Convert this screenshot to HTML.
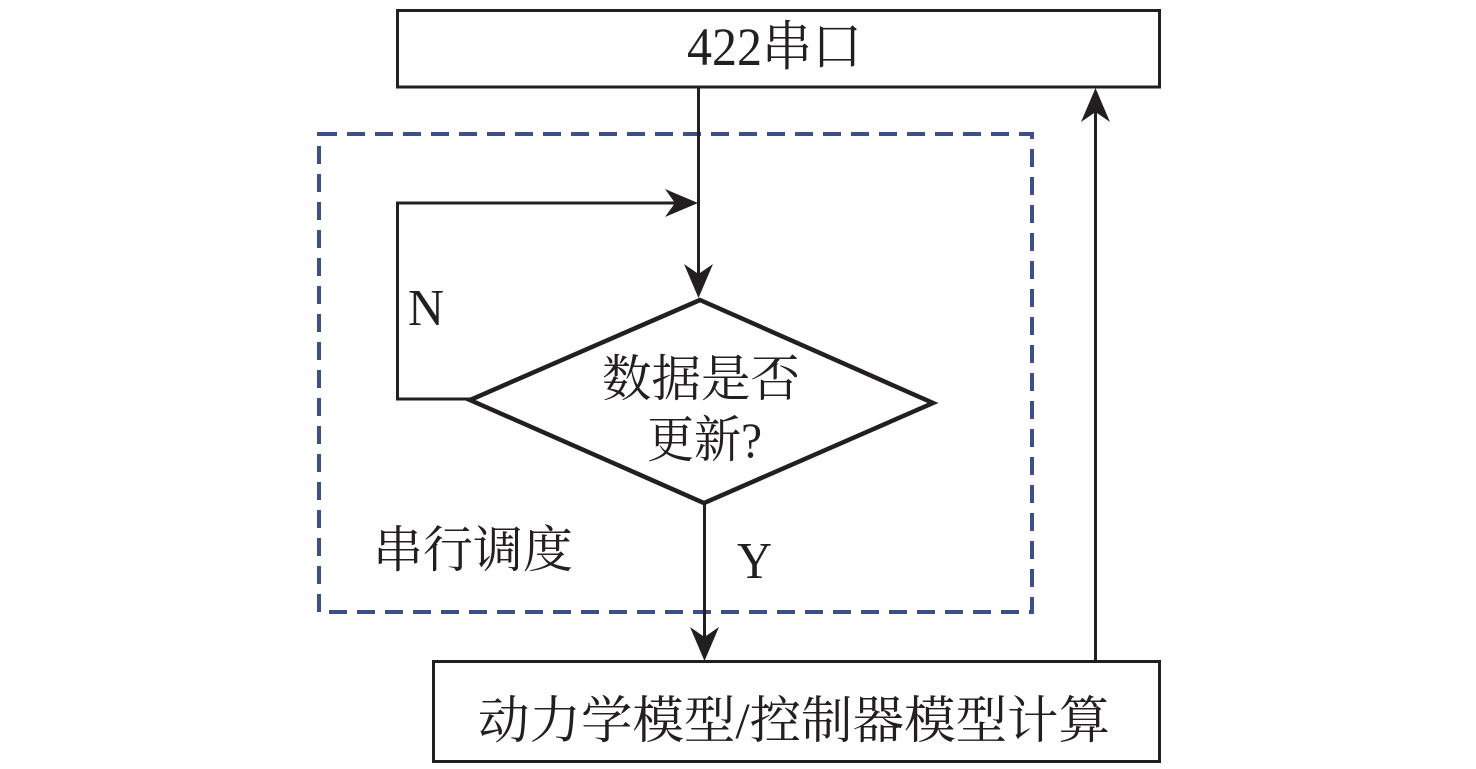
<!DOCTYPE html>
<html>
<head>
<meta charset="utf-8">
<style>
  html, body { margin: 0; padding: 0; background: #ffffff; }
  body { width: 1476px; height: 769px; overflow: hidden; }
  svg { display: block; }
  text { font-family: "Liberation Serif", "Noto Serif CJK SC", serif; fill: #231f20; }
</style>
</head>
<body>
<svg width="1476" height="769" viewBox="0 0 1476 769" xmlns="http://www.w3.org/2000/svg">
  <!-- dashed group box -->
  <rect x="319" y="134" width="713" height="478" fill="none" stroke="#3b4f88" stroke-width="4" stroke-dasharray="18 10"/>

  <!-- top box -->
  <rect x="397.5" y="10.5" width="762" height="76.5" fill="#fff" stroke="#231f20" stroke-width="3"/>
  <text x="687" y="65" font-size="54" textLength="175" lengthAdjust="spacingAndGlyphs">422串口</text>

  <!-- bottom box -->
  <rect x="433.5" y="661.5" width="726" height="100" fill="#fff" stroke="#231f20" stroke-width="3"/>
  <text x="478" y="738" font-size="51" textLength="632" lengthAdjust="spacingAndGlyphs">动力学模型/控制器模型计算</text>

  <!-- connector top box -> diamond -->
  <line x1="698.5" y1="87" x2="698.5" y2="290" stroke="#231f20" stroke-width="3"/>
  <polygon points="698.5,298 684,264 698.5,274 713,264" fill="#231f20"/>

  <!-- loop N -->
  <polyline points="471,399 397.5,399 397.5,203 690,203" fill="none" stroke="#231f20" stroke-width="3"/>
  <polygon points="698,203 665,189 675,203 665,217" fill="#231f20"/>

  <!-- diamond -->
  <polygon points="700,300 933,403 704,503 470,400" fill="#fff" stroke="#231f20" stroke-width="4.5" stroke-linejoin="miter"/>
  <text x="602" y="396" font-size="50" textLength="198" lengthAdjust="spacingAndGlyphs">数据是否</text>
  <text x="647" y="457" font-size="50" textLength="115" lengthAdjust="spacingAndGlyphs">更新?</text>

  <!-- Y connector -->
  <line x1="704.5" y1="503" x2="704.5" y2="652" stroke="#231f20" stroke-width="3"/>
  <polygon points="704.5,661 690,627 704.5,637 719,627" fill="#231f20"/>

  <!-- return connector -->
  <line x1="1095.5" y1="661" x2="1095.5" y2="96" stroke="#231f20" stroke-width="3"/>
  <polygon points="1095.5,88 1081,122 1095.5,112 1110,122" fill="#231f20"/>

  <!-- labels -->
  <text x="408" y="325" font-size="52" textLength="36" lengthAdjust="spacingAndGlyphs">N</text>
  <text x="737" y="578" font-size="52" textLength="35" lengthAdjust="spacingAndGlyphs">Y</text>
  <text x="373" y="567" font-size="50" textLength="200" lengthAdjust="spacingAndGlyphs">串行调度</text>
</svg>
</body>
</html>
